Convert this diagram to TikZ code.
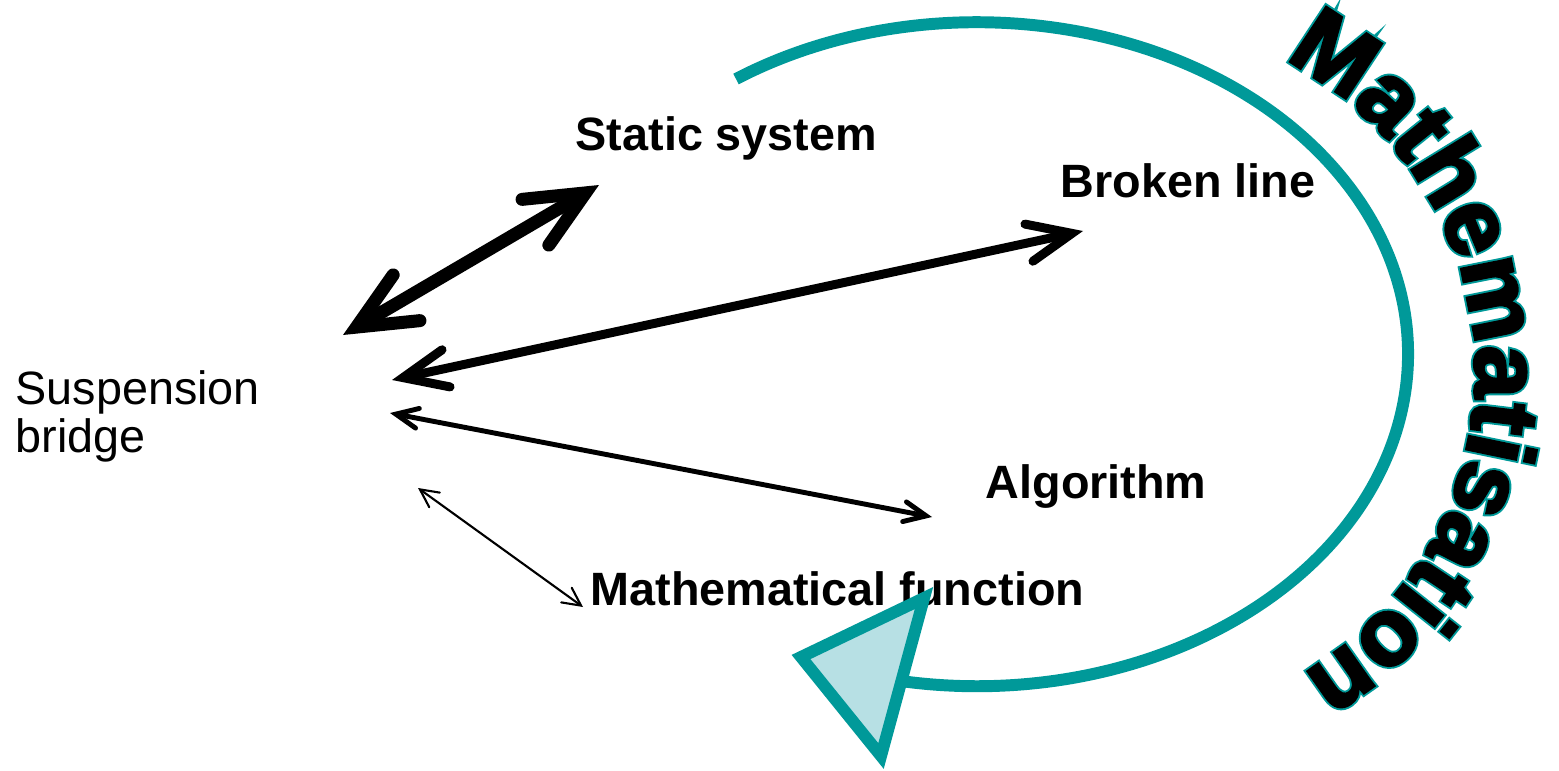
\documentclass[tikz,border=0pt]{standalone}
\usepackage{fontspec}
\setmainfont{Liberation Sans}
\newfontface\mathisfont{Liberation Sans Bold}[FakeBold=3]
\newfontface\mathisrim{Liberation Sans Bold}[FakeBold=7]
\usetikzlibrary{arrows.meta,decorations.text}
\definecolor{mteal}{RGB}{0,153,153}
\definecolor{mpale}{RGB}{183,224,228}
\begin{document}
\begin{tikzpicture}[
  mlbl/.style={anchor=base west, inner sep=0pt, font={\bfseries\fontsize{13.3}{16}\selectfont}},
  mtxt/.style={anchor=base west, inner sep=0pt, align=left, font={\fontsize{13.3}{13.4}\selectfont}},
  mlinkA/.style={<->, >={Straight Barb[length=5.8mm, width=5.3mm, line cap=round]}, line width=3.7pt},
  mlinkB/.style={<->, >={Straight Barb[length=4.4mm, width=3.8mm, line cap=round]}, line width=2.55pt},
  mlinkC/.style={<->, >={Straight Barb[length=2.2mm, width=2.0mm, line cap=round]}, line width=1.4pt},
  mlinkD/.style={<->, >={Straight Barb[length=1.8mm, width=1.8mm, line cap=round]}, line width=0.6pt},
  mcycle/.style={draw=mteal, line width=3.4pt},
  mhead/.style={draw=mteal, fill=mpale, line width=3.4pt, line join=miter},
  mword/.style={decorate, decoration={text along path, text align={fit to path}}}
]
\useasboundingbox (0,0) rectangle (15.59,7.70);
\node[mtxt] (susp) at (0.15,3.18) {Suspension\\bridge};
\node[mlbl] (static) at (5.75,6.20) {Static system};
\node[mlbl] (broken) at (10.60,5.73) {Broken line};
\node[mlbl] (algo) at (9.85,2.72) {Algorithm};
\node[mlbl] (mathfun) at (5.90,1.65) {Mathematical function};
\coordinate (a1s) at (3.43,4.35);
\coordinate (a1e) at (5.99,5.85);
\coordinate (a2s) at (3.92,3.90);
\coordinate (a2e) at (10.83,5.39);
\coordinate (a3s) at (3.90,3.57);
\coordinate (a3e) at (9.32,2.53);
\coordinate (a4s) at (4.18,2.82);
\coordinate (a4e) at (5.83,1.63);
\draw[mlinkA] (a1s) -- (a1e);
\draw[mlinkB] (a2s) -- (a2e);
\draw[mlinkC] (a3s) -- (a3e);
\draw[mlinkD] (a4s) -- (a4e);
\coordinate (cyc) at (7.36,6.91);
\draw[mcycle] (cyc) arc[start angle=124, end angle=-99.5, x radius=4.31, y radius=3.32];
\coordinate (h1) at (9.24,1.72);
\coordinate (h2) at (8.01,1.13);
\coordinate (h3) at (8.81,0.14);
\draw[mhead] (h1) -- (h2) -- (h3) -- cycle;
\coordinate (tbeg) at (12.839,7.099);
\path[mword, decoration={text color=mteal, text={|\mathisrim\fontsize{27}{27}\selectfont|Mathematisation}}] (tbeg) arc[start angle=63, end angle=-59, radius=3.5];
\path[mword, decoration={text color=black, text={|\mathisfont\fontsize{27}{27}\selectfont|Mathematisation}}] (tbeg) arc[start angle=63, end angle=-59, radius=3.5];
\end{tikzpicture}
\end{document}
